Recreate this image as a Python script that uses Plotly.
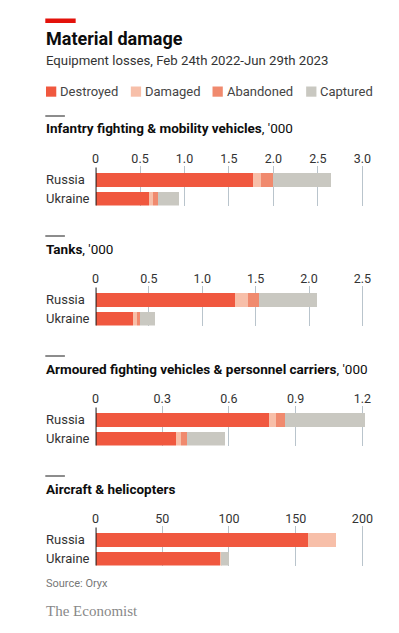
import plotly.graph_objects as go

# ---------------- data ----------------
countries = ["Russia", "Ukraine"]
statuses = ["Destroyed", "Damaged", "Abandoned", "Captured"]
colors = ["#F0583F", "#F7BFA9", "#F08A6E", "#C9C8C1"]

panel_titles = ["Infantry fighting & mobility vehicles", "Tanks",
                "Armoured fighting vehicles & personnel carriers", "Aircraft & helicopters"]
panel_units = [", '000", ", '000", ", '000", ""]

# values per status: [Russia, Ukraine]
ifv = {"Destroyed": [1.76, 0.60], "Damaged": [0.10, 0.04], "Abandoned": [0.13, 0.06], "Captured": [0.65, 0.23]}
tanks = {"Destroyed": [1.30, 0.35], "Damaged": [0.12, 0.03], "Abandoned": [0.11, 0.03], "Captured": [0.54, 0.14]}
afv = {"Destroyed": [0.78, 0.36], "Damaged": [0.03, 0.02], "Abandoned": [0.04, 0.03], "Captured": [0.36, 0.17]}
aircraft = {"Destroyed": [159, 93], "Damaged": [21, 1], "Abandoned": [0, 0], "Captured": [0, 6]}
panel_data = [ifv, tanks, afv, aircraft]

tick_vals = [[0, 0.5, 1.0, 1.5, 2.0, 2.5, 3.0],
             [0, 0.5, 1.0, 1.5, 2.0, 2.5],
             [0, 0.3, 0.6, 0.9, 1.2],
             [0, 50, 100, 150, 200]]
tick_text = [["0", "0.5", "1.0", "1.5", "2.0", "2.5", "3.0"],
             ["0", "0.5", "1.0", "1.5", "2.0", "2.5"],
             ["0", "0.3", "0.6", "0.9", "1.2"],
             ["0", "50", "100", "150", "200"]]

# ---------------- layout helpers ----------------
# page body has an 8px default margin; work in window pixels and convert
OFF = 8
W, H = 399 - OFF, 633 - OFF
FONT = "Roboto"
def py(p):
    return 1 - (p - OFF) / H
def px(p):
    return (p - OFF) / W

x0_px, xmaxtick_px, xright_px = 93.3, 365.7, 372.0
spacing = 19.0
bar_h = 14.0
bw = bar_h / spacing
TXT_X = 40.5

fig = go.Figure()
shapes = []
annotations = []
layout_axes = {}

for i in range(4):
    off = 120 * i
    bottom_px = 205.5 + off
    top_px = 166.0 + off
    n = i + 1
    xa = "x" if n == 1 else f"x{n}"
    ya = "y" if n == 1 else f"y{n}"
    data = panel_data[i]
    for s, c in zip(statuses, colors):
        fig.add_trace(go.Bar(
            x=data[s], y=[1, 0], orientation="h", width=bw,
            marker=dict(color=c, line=dict(width=0)),
            xaxis=xa, yaxis=ya, showlegend=False, hoverinfo="skip"))
    maxtick = tick_vals[i][-1]
    ppu = (xmaxtick_px - x0_px) / maxtick
    xmax = (xright_px - x0_px) / ppu
    half = bw / 2
    ymin = -half
    ymax = ymin + (bottom_px - top_px) / spacing
    layout_axes[("xaxis" if n == 1 else f"xaxis{n}")] = dict(
        domain=[px(x0_px), px(xright_px)], range=[0, xmax], anchor=ya, side="top",
        tickvals=tick_vals[i], ticktext=tick_text[i], showgrid=True,
        gridcolor="#B9C4CC", gridwidth=1, zeroline=False, showline=False,
        ticks="", ticklen=0,
        tickfont=dict(family=FONT, size=12.5, color="#333333"), fixedrange=True)
    layout_axes[("yaxis" if n == 1 else f"yaxis{n}")] = dict(
        domain=[py(bottom_px), py(top_px)], range=[ymin, ymax], anchor=xa,
        showgrid=False, zeroline=False, showticklabels=False, showline=False, fixedrange=True)
    # zero line
    shapes.append(dict(type="line", xref=xa, yref=f"{ya} domain", x0=0, x1=0, y0=0, y1=0.96,
                       line=dict(color="#1a1a1a", width=2), layer="above"))
    # category labels
    for yv, name in zip([1, 0], countries):
        annotations.append(dict(xref="paper", yref=ya, x=px(TXT_X), y=yv, text=name,
                                showarrow=False, xanchor="left", yanchor="middle",
                                font=dict(family=FONT, size=13, color="#333333")))
    # panel divider and title
    shapes.append(dict(type="line", xref="paper", yref="paper", x0=px(42), x1=px(62),
                       y0=py(116 + off), y1=py(116 + off), line=dict(color="#1a1a1a", width=1)))
    annotations.append(dict(xref="paper", yref="paper", x=px(TXT_X), y=py(128.5 + off),
                            text=f"<b>{panel_titles[i]}</b>{panel_units[i]}",
                            showarrow=False, xanchor="left", yanchor="middle",
                            font=dict(family=FONT, size=13.5, color="#0d0d0d")))

# header red bar and titles
shapes.append(dict(type="rect", xref="paper", yref="paper", x0=px(42), x1=px(73),
                   y0=py(23), y1=py(18.5), fillcolor="#E3120B", line=dict(width=0)))
annotations.append(dict(xref="paper", yref="paper", x=px(TXT_X), y=py(38.5),
                        text="<b>Material damage</b>", showarrow=False, xanchor="left",
                        yanchor="middle", font=dict(family=FONT, size=18, color="#0d0d0d")))
annotations.append(dict(xref="paper", yref="paper", x=px(TXT_X), y=py(61),
                        text="Equipment losses, Feb 24th 2022-Jun 29th 2023", showarrow=False,
                        xanchor="left", yanchor="middle",
                        font=dict(family=FONT, size=13.2, color="#333333")))

# legend
legend_sq_x = [42.7, 129.3, 212.7, 308.3]
for s, c, lx in zip(statuses, colors, legend_sq_x):
    shapes.append(dict(type="rect", xref="paper", yref="paper", x0=px(lx), x1=px(lx + 10.5),
                       y0=py(96.7), y1=py(86.5), fillcolor=c, line=dict(width=0)))
    annotations.append(dict(xref="paper", yref="paper", x=px(lx + 12.5), y=py(91.5), text=s,
                            showarrow=False, xanchor="left", yanchor="middle",
                            font=dict(family=FONT, size=13, color="#444444")))

# footer
annotations.append(dict(xref="paper", yref="paper", x=px(TXT_X), y=py(583), text="Source: Oryx",
                        showarrow=False, xanchor="left", yanchor="middle",
                        font=dict(family=FONT, size=11, color="#777777")))
annotations.append(dict(xref="paper", yref="paper", x=px(TXT_X), y=py(611), text="The Economist",
                        showarrow=False, xanchor="left", yanchor="middle",
                        font=dict(family="Liberation Serif", size=15, color="#888888")))

fig.update_layout(
    width=W, height=H, margin=dict(l=0, r=0, t=0, b=0),
    paper_bgcolor="white", plot_bgcolor="white", barmode="stack", bargap=0,
    showlegend=False, shapes=shapes, annotations=annotations, **layout_axes)

fig.write_html("out.html", config={"displayModeBar": False})
